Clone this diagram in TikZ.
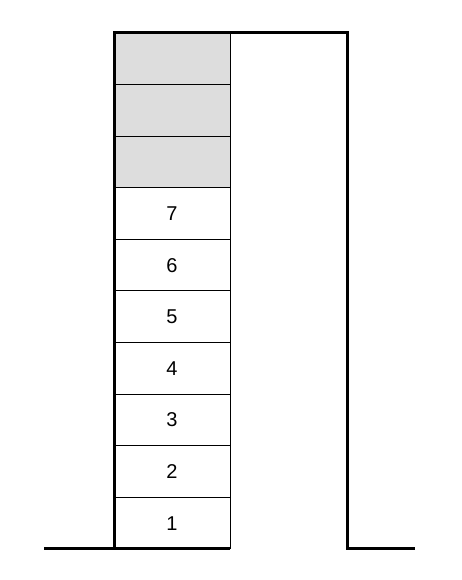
\documentclass[tikz,border=0pt]{standalone}
\usepackage{fontspec}
\setmainfont{Liberation Sans}
\definecolor{emptycell}{HTML}{DDDDDD}
\tikzset{
  cell/.style={draw, line width=1pt},
  wall/.style={line width=3pt, line join=miter},
  cellnum/.style={font=\fontsize{20}{20}\selectfont}
}
\begin{document}
\begin{tikzpicture}[x=1pt,y=1pt]
\useasboundingbox (0,0) rectangle (462,580);
% filled cells 1..7
\foreach \i in {1,...,7} {
  \draw[cell] (114,31+51.6*\i-51.6) rectangle (230,31+51.6*\i);
  \node[cellnum] (c\i) at (172,31+51.6*\i-25.8) {\i};
}
% free cells on top
\foreach \i in {8,9,10} {
  \filldraw[cell, fill=emptycell] (114,31+51.6*\i-51.6) rectangle (230,31+51.6*\i);
}
% outline
\coordinate (gl) at (44,31);
\coordinate (gr) at (415,31);
\draw[wall] (gl) -- (114,31) -- (114,547) -- (347,547) -- (347,31) -- (gr);
\draw[wall] (114,31) -- (230,31);
\end{tikzpicture}
\end{document}
